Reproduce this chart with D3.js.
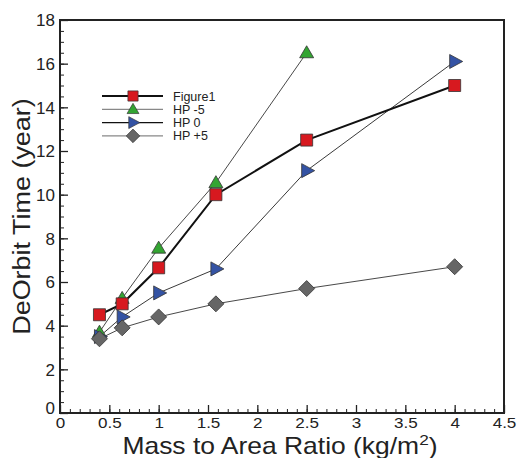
<!DOCTYPE html>
<html>
<head>
<meta charset="utf-8">
<script src="https://cdn.jsdelivr.net/npm/d3@7"></script>
<style>
  body { margin: 0; background: #fff; }
  svg { font-family: "Liberation Sans", Arial, sans-serif; }
</style>
</head>
<body>
<div id="chart"></div>
<script>
// dati
const massRatio = [0.4, 0.63, 1, 1.58, 2.5, 4];
const figure1 = [4.5, 5.0, 6.65, 10.0, 12.5, 15.0];
const hpMinus5 = [3.7, 5.25, 7.55, 10.55, 16.5];
const hpZero = [3.5, 4.4, 5.5, 6.6, 11.1, 16.1];
const hpPlus5 = [3.4, 3.9, 4.4, 5.0, 5.7, 6.7];
const xTicks = [0, 0.5, 1, 1.5, 2, 2.5, 3, 3.5, 4, 4.5];
const yTicks = [0, 2, 4, 6, 8, 10, 12, 14, 16, 18];

const series = [
  { name: 'Figure1', values: figure1, shape: 'square', fill: '#d7191f', line: '#111', lw: 2 },
  { name: 'HP -5', values: hpMinus5, shape: 'triUp', fill: '#33a532', line: '#333', lw: 0.9, legendLine: '#888' },
  { name: 'HP 0', values: hpZero, shape: 'triRight', fill: '#3453a4', line: '#222', lw: 0.9, legendLine: '#111' },
  { name: 'HP +5', values: hpPlus5, shape: 'diamond', fill: '#666', line: '#333', lw: 0.9, legendLine: '#888' }
];

const W = 518, H = 458;
const margin = { top: 20, right: 14, bottom: 45, left: 60 };
const width = W - margin.left - margin.right;
const height = H - margin.top - margin.bottom;

const svg = d3.select('#chart').append('svg')
  .attr('width', W).attr('height', H);
const g = svg.append('g').attr('transform', `translate(${margin.left},${margin.top})`);

const x = d3.scaleLinear().domain([0, 4.5]).range([0, width]);
const y = d3.scaleLinear().domain([0, 18]).range([height, 0]);

// assi con tacche interne
const minorX = d3.range(0, 4.5001, 0.1);
const minorY = d3.range(0, 18.001, 0.5);

g.append('g')
  .attr('transform', `translate(0,${height})`)
  .call(d3.axisBottom(x).tickValues(minorX).tickSize(-4).tickFormat(''))
  .call(a => a.select('.domain').remove())
  .selectAll('line').attr('stroke', '#222');
g.append('g')
  .attr('transform', `translate(0,${height})`)
  .call(d3.axisBottom(x).tickValues(xTicks).tickSize(-8).tickPadding(2)
    .tickFormat(d => d3.format('')(d)))
  .call(a => a.select('.domain').remove())
  .call(a => a.selectAll('line').attr('stroke', '#222').attr('stroke-width', 1.3))
  .call(a => a.selectAll('text').attr('font-size', 15.5).attr('fill', '#222')
    .attr('y', 15).attr('dy', 0).attr('transform', 'scale(1.1,1)'));

g.append('g')
  .call(d3.axisLeft(y).tickValues(minorY).tickSize(-4).tickFormat(''))
  .call(a => a.select('.domain').remove())
  .selectAll('line').attr('stroke', '#222');
g.append('g')
  .call(d3.axisLeft(y).tickValues(yTicks).tickSize(-8).tickPadding(5))
  .call(a => a.select('.domain').remove())
  .call(a => a.selectAll('line').attr('stroke', '#222').attr('stroke-width', 1.3))
  .call(a => a.selectAll('text').attr('font-size', 17).attr('fill', '#222')
    .attr('dy', d => d === 0 ? '0.05em' : '0.34em'));

// cornice
g.append('rect')
  .attr('width', width).attr('height', height)
  .attr('fill', 'none').attr('stroke', '#222').attr('stroke-width', 2);

// titoli assi (il carattere dell'originale è un po' più largo)
svg.append('text')
  .attr('transform', `translate(${margin.left + width / 2 - 2},${H - 4}) scale(1.15,1)`)
  .attr('text-anchor', 'middle')
  .attr('font-size', 23).attr('fill', '#222')
  .html('Mass to Area Ratio (kg/m<tspan dy="-9" font-size="15">2</tspan><tspan dy="9">)</tspan>');

svg.append('text')
  .attr('transform', `translate(30,${margin.top + height / 2}) rotate(-90) scale(1.1,1)`)
  .attr('text-anchor', 'middle')
  .attr('font-size', 24.5).attr('fill', '#222')
  .text('DeOrbit Time (year)');

// simboli
function symbolPath(shape) {
  if (shape === 'square') return 'M-6,-6H6V6H-6Z';
  if (shape === 'triUp') return 'M0,-7L7,5H-7Z';
  if (shape === 'triRight') return 'M-5,-7L8,0L-5,7Z';
  return 'M0,-8L8,0L0,8L-8,0Z';
}

const line = d3.line().x(d => x(d[0])).y(d => y(d[1]));

// linee (disegnate prima dei simboli)
series.slice().reverse().forEach(s => {
  const pts = s.values.map((v, i) => [massRatio[i], v]);
  g.append('path')
    .datum(pts)
    .attr('d', line)
    .attr('fill', 'none')
    .attr('stroke', s.line)
    .attr('stroke-width', s.lw);
});

[series[1], series[2], series[0], series[3]].forEach(s => {
  const pts = s.values.map((v, i) => [massRatio[i], v]);
  g.selectAll(null)
    .data(pts)
    .join('path')
    .attr('transform', d => `translate(${x(d[0])},${y(d[1])})`)
    .attr('d', symbolPath(s.shape))
    .attr('fill', s.fill)
    .attr('stroke', '#333')
    .attr('stroke-width', 0.8);
});

// legenda
const legend = svg.append('g').attr('transform', 'translate(102,96)');
series.forEach((s, i) => {
  const row = legend.append('g').attr('transform', `translate(0,${i * 13.3})`);
  row.append('line')
    .attr('x1', 0).attr('x2', 61)
    .attr('stroke', s.legendLine || s.line)
    .attr('stroke-width', s.lw === 2 ? 2 : 1.2);
  row.append('path')
    .attr('transform', 'translate(31,0) scale(0.85)')
    .attr('d', symbolPath(s.shape))
    .attr('fill', s.fill)
    .attr('stroke', '#333')
    .attr('stroke-width', 0.8);
  row.append('text')
    .attr('x', 71).attr('y', 4.5)
    .attr('font-size', 12.5).attr('fill', '#222')
    .text(s.name);
});
</script>
</body>
</html>
